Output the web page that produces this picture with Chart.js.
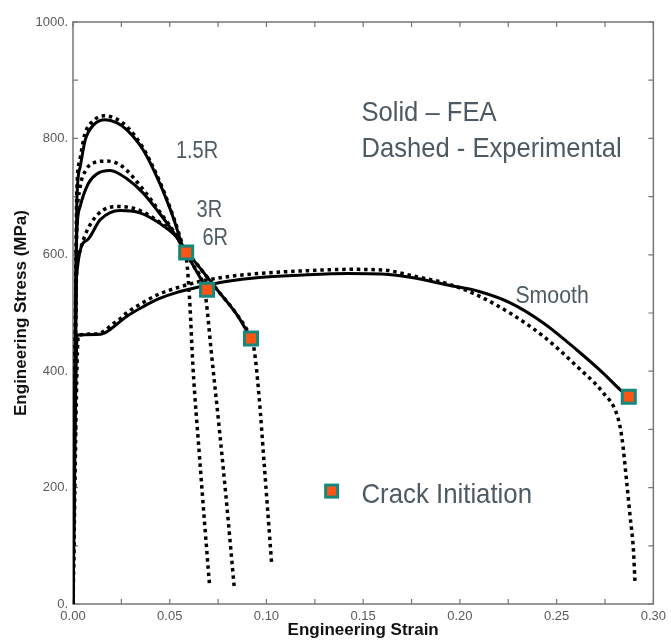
<!DOCTYPE html>
<html>
<head>
<meta charset="utf-8">
<script src="https://cdn.jsdelivr.net/npm/chart.js@4"></script>
<style>
	body { margin: 0; background: #fff; }
	#wrap { width: 671px; height: 640px; }
</style>
</head>
<body>
<div id="wrap"><canvas id="myCanvas"></canvas></div>
<script>
// tick labels
const xTickLabels = ['0.00', '0.05', '0.10', '0.15', '0.20', '0.25', '0.30'];
const yTickLabels = ['0.', '200.', '400.', '600.', '800.', '1000.'];

// 1.5R notch
const fea15Strain = [0, 0.0015, 0.002, 0.0037, 0.0063, 0.0106, 0.0166, 0.0225, 0.0277, 0.0363, 0.0448, 0.0517, 0.0568, 0.0585];
const fea15Stress = [0, 560, 694, 751, 797, 823, 832, 827, 815, 780, 723, 665, 614, 604];
const exp15Strain = [0, 0.0015, 0.0019, 0.0035, 0.006, 0.0104, 0.0163, 0.022, 0.028, 0.0363, 0.0448, 0.0517, 0.0568, 0.0586, 0.0603, 0.062, 0.0654, 0.068, 0.0705];
const exp15Stress = [0, 560, 700, 762, 806, 830, 839, 834, 820, 783, 726, 667, 615, 595, 522, 408, 253, 140, 36];

// 3R notch
const fea3Strain = [0, 0.0015, 0.002, 0.0037, 0.008, 0.0123, 0.0192, 0.0277, 0.0363, 0.0448, 0.0517, 0.056, 0.0693];
const fea3Stress = [0, 560, 640, 683, 723, 739, 745, 731, 706, 671, 640, 617, 540];
const exp3Strain = [0, 0.0015, 0.0021, 0.0035, 0.007, 0.0115, 0.0175, 0.025, 0.0363, 0.0448, 0.0517, 0.056, 0.0625, 0.067, 0.0688, 0.0714, 0.0757, 0.0791, 0.0834];
const exp3Stress = [0, 560, 660, 712, 747, 759, 761, 753, 712, 674, 642, 618, 580, 553, 522, 436, 299, 184, 27];

// 6R notch
const fea6Strain = [0, 0.0018, 0.0072, 0.014, 0.0243, 0.0346, 0.0448, 0.0534, 0.0568, 0.065, 0.075, 0.085, 0.092];
const fea6Stress = [0, 562, 625, 660, 676, 672, 654, 631, 614, 580, 538, 496, 456];
const exp6Strain = [0, 0.0018, 0.003, 0.0065, 0.013, 0.0226, 0.03, 0.0346, 0.0448, 0.0534, 0.0568, 0.065, 0.075, 0.085, 0.092, 0.0937, 0.0962, 0.0988, 0.1027];
const exp6Stress = [0, 562, 600, 636, 670, 683, 681, 676, 656, 632, 615, 580, 538, 496, 456, 436, 356, 242, 69];

// smooth bar
const feaSmoothStrain = [0, 0.0022, 0.012, 0.0165, 0.0209, 0.0277, 0.0363, 0.0448, 0.0534, 0.0654, 0.0791, 0.0962, 0.1168, 0.1424, 0.1596, 0.1767, 0.1938, 0.21, 0.2263, 0.2435, 0.2606, 0.2743, 0.2829, 0.2873];
const feaSmoothStress = [0, 462, 463, 466, 476, 494, 511, 525, 535, 545, 554, 561, 565, 568, 567, 560, 548, 537, 517, 482, 436, 396, 368, 356];
const expSmoothStrain = [0, 0.0028, 0.012, 0.0165, 0.0209, 0.0243, 0.0277, 0.0363, 0.0448, 0.0534, 0.0654, 0.0791, 0.0962, 0.1168, 0.1424, 0.1596, 0.1767, 0.1938, 0.21, 0.2263, 0.2435, 0.2606, 0.2743, 0.2812, 0.2837, 0.2863, 0.288, 0.2897, 0.2905];
const expSmoothStress = [0, 462, 464, 470, 482, 490, 500, 518, 533, 543, 554, 562, 568, 572, 575, 574, 563, 550, 529, 499, 459, 408, 362, 325, 287, 207, 150, 93, 38];

// crack initiation
const crackStrain = [0.0585, 0.0693, 0.092, 0.2873];
const crackStress = [604, 540, 456, 356];

const teal = '#17877c';
const orange = '#fb5414';
const noteColor = '#4d5a64';
const fontFamily = '"Liberation Sans", Arial, sans-serif';

const pts = (xs, ys) => xs.map((x, i) => ({ x: x, y: ys[i] }));

const solid = (xs, ys) => ({
	data: pts(xs, ys),
	showLine: true,
	pointRadius: 0,
	borderColor: '#000',
	borderWidth: 3,
	cubicInterpolationMode: 'monotone'
});

const dotted = (xs, ys) => ({
	data: pts(xs, ys),
	showLine: true,
	pointRadius: 0,
	borderColor: '#000',
	borderWidth: 3.5,
	borderDash: [3.5, 3.8],
	borderCapStyle: 'butt',
	cubicInterpolationMode: 'monotone'
});

const notes = [
	{ text: '1.5R', x: 0.0532, y: 766, size: 20, sy: 1.15 },
	{ text: '3R', x: 0.0639, y: 665, size: 20, sy: 1.15 },
	{ text: '6R', x: 0.0669, y: 617, size: 20, sy: 1.15 },
	{ text: 'Smooth', x: 0.2287, y: 517, size: 21.3, sy: 1.1 },
	{ text: 'Solid \u2013 FEA', x: 0.1491, y: 830, size: 25.6, sy: 1.08 },
	{ text: 'Dashed - Experimental', x: 0.1491, y: 768, size: 25.6, sy: 1.08 },
	{ text: 'Crack Initiation', x: 0.1491, y: 174, size: 25.8, sy: 1.08 }
];

const framePlugin = {
	id: 'frame',
	beforeDatasetsDraw(chart) {
		const ctx = chart.ctx;
		const a = chart.chartArea;
		const xs = chart.scales.x;
		const ys = chart.scales.y;
		ctx.save();
		ctx.strokeStyle = '#777';
		ctx.lineWidth = 1.5;
		ctx.strokeRect(a.left, a.top, a.right - a.left, a.bottom - a.top);
		ctx.lineWidth = 1.2;
		ctx.beginPath();
		xs.ticks.forEach(t => {
			const px = xs.getPixelForValue(t.value);
			ctx.moveTo(px, a.bottom);
			ctx.lineTo(px, a.bottom - 5);
			ctx.moveTo(px, a.top);
			ctx.lineTo(px, a.top + 5);
		});
		ys.ticks.forEach(t => {
			const py = ys.getPixelForValue(t.value);
			ctx.moveTo(a.left, py);
			ctx.lineTo(a.left + 5, py);
			ctx.moveTo(a.right, py);
			ctx.lineTo(a.right - 5, py);
		});
		ctx.stroke();
		ctx.restore();
	},
	afterDatasetsDraw(chart) {
		const ctx = chart.ctx;
		const xs = chart.scales.x;
		const ys = chart.scales.y;
		ctx.save();
		ctx.fillStyle = noteColor;
		ctx.textAlign = 'left';
		ctx.textBaseline = 'alphabetic';
		notes.forEach(n => {
			ctx.save();
			ctx.translate(xs.getPixelForValue(n.x), ys.getPixelForValue(n.y));
			ctx.scale(1, n.sy);
			ctx.font = n.size + 'px ' + fontFamily;
			ctx.fillText(n.text, 0, 0);
			ctx.restore();
		});
		// legend marker
		const mx = xs.getPixelForValue(0.1337);
		const my = ys.getPixelForValue(194);
		ctx.fillStyle = orange;
		ctx.fillRect(mx - 6, my - 6, 12, 12);
		ctx.strokeStyle = teal;
		ctx.lineWidth = 3;
		ctx.strokeRect(mx - 6, my - 6, 12, 12);
		ctx.restore();
	}
};

const ctx = document.querySelector('#myCanvas');
const chart = new Chart(ctx, {
	type: 'scatter',
	data: {
		datasets: [
			{
				data: pts(crackStrain, crackStress),
				pointStyle: 'rect',
				pointRadius: 9.2,
				pointBackgroundColor: orange,
				pointBorderColor: teal,
				pointBorderWidth: 3,
				showLine: false
			},
			solid(fea15Strain, fea15Stress),
			solid(fea3Strain, fea3Stress),
			solid(fea6Strain, fea6Stress),
			solid(feaSmoothStrain, feaSmoothStress),
			dotted(exp15Strain, exp15Stress),
			dotted(exp3Strain, exp3Stress),
			dotted(exp6Strain, exp6Stress),
			dotted(expSmoothStrain, expSmoothStress)
		]
	},
	options: {
		responsive: true,
		maintainAspectRatio: false,
		animation: false,
		layout: { padding: { left: 0, right: 14, top: 22, bottom: 0 } },
		plugins: {
			legend: { display: false },
			tooltip: { enabled: false }
		},
		scales: {
			x: {
				type: 'linear',
				min: 0,
				max: 0.3,
				grid: { display: false, drawTicks: false },
				border: { display: false },
				afterFit: s => { s.height = 36; },
				ticks: {
					stepSize: 0.025,
					autoSkip: false,
					maxRotation: 0,
					padding: 5,
					color: '#5a5a5a',
					font: { family: fontFamily, size: 13 },
					callback: v => {
						const k = Math.round(v / 0.025);
						return k % 2 === 0 ? xTickLabels[k / 2] : '';
					}
				},
				title: {
					display: true,
					text: 'Engineering Strain',
					color: '#111',
					padding: { top: 0, bottom: 1 },
					font: { family: fontFamily, size: 17, weight: 'bold', lineHeight: 1 }
				}
			},
			y: {
				type: 'linear',
				min: 0,
				max: 1000,
				grid: { display: false, drawTicks: false },
				border: { display: false },
				afterFit: s => { s.width = 73; },
				ticks: {
					stepSize: 100,
					autoSkip: false,
					padding: 5,
					color: '#5a5a5a',
					font: { family: fontFamily, size: 13 },
					callback: v => {
						const k = Math.round(v / 100);
						return k % 2 === 0 ? yTickLabels[k / 2] : '';
					}
				},
				title: {
					display: true,
					text: 'Engineering Stress (MPa)',
					color: '#111',
					padding: { top: 13, bottom: 0 },
					font: { family: fontFamily, size: 17, weight: 'bold', lineHeight: 1 }
				}
			}
		}
	},
	plugins: [framePlugin]
});
</script>
</body>
</html>
